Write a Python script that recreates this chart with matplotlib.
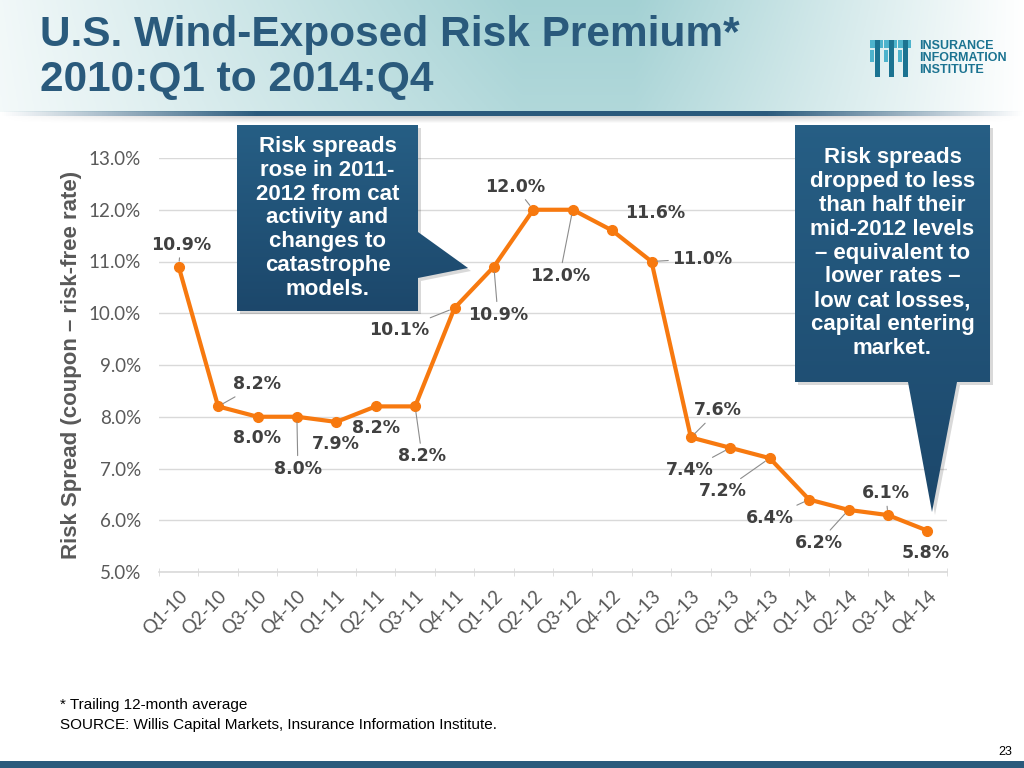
import numpy as np
import matplotlib
matplotlib.use("Agg")
import matplotlib.pyplot as plt
from matplotlib.patches import Polygon, Rectangle
from matplotlib import font_manager

# data
quarters = ["Q1-10", "Q2-10", "Q3-10", "Q4-10", "Q1-11", "Q2-11", "Q3-11", "Q4-11",
            "Q1-12", "Q2-12", "Q3-12", "Q4-12", "Q1-13", "Q2-13", "Q3-13", "Q4-13",
            "Q1-14", "Q2-14", "Q3-14", "Q4-14"]
spread = [10.9, 8.2, 8.0, 8.0, 7.9, 8.2, 8.2, 10.1, 10.9, 12.0,
          12.0, 11.6, 11.0, 7.6, 7.4, 7.2, 6.4, 6.2, 6.1, 5.8]

# label placement (pixel offsets from each point) and whether a leader line is drawn
label_offsets = [(2, 22), (39, 22), (0, -21), (1, -52), (0, -22), (0, -22), (7, -50),
                 (-55, -22), (4, -48), (-18, 23), (-13, -66), (43, 17), (51, 3),
                 (27, 27), (-41, -22), (-47, -33), (-39, -18), (-30, -33), (-2, 22),
                 (-2, -22)]
leaders = [1, 1, 0, 1, 0, 0, 1, 1, 1, 1, 1, 0, 1, 1, 1, 1, 1, 1, 1, 0]

installed = {f.name for f in font_manager.fontManager.ttflist}
NARROW = "Liberation Sans Narrow" if "Liberation Sans Narrow" in installed else "Liberation Sans"
TICKF = "Lato" if "Lato" in installed else "DejaVu Sans"

BLUE = "#2a5a7c"
ORANGE = "#f7790f"
GREY = "#595959"

fig = plt.figure(figsize=(10.24, 7.68), dpi=100)
fig.patch.set_facecolor("white")

# main chart
ax = fig.add_axes([159 / 1024, 1 - 572 / 768, (947 - 159) / 1024, (572 - 158) / 768])
x = np.arange(len(quarters))
ax.plot(x, spread, color=ORANGE, lw=3, marker="o", ms=7, zorder=3)
ax.set_xlim(-0.5, len(quarters) - 0.5)
ax.set_ylim(5, 13)
ax.set_yticks(np.arange(5, 13.01, 1))
ax.set_yticklabels([f"{v:.1f}%" for v in np.arange(5, 13.01, 1)],
                   fontsize=13.5, color=GREY, family=TICKF)
ax.yaxis.grid(True, color="#d9d9d9", lw=1)
ax.set_axisbelow(True)
ax.set_xticks(x)
ax.set_xticklabels(quarters, rotation=45, ha="right", rotation_mode="anchor",
                   fontsize=13.5, color=GREY, family=TICKF)
ax.set_xticks(np.arange(-0.5, len(quarters)), minor=True)
ax.tick_params(axis="x", which="major", length=0, pad=11)
ax.tick_params(axis="x", which="minor", length=6, color="#d9d9d9", direction="inout")
ax.tick_params(axis="y", length=0, pad=13)
for s in ["top", "right", "left"]:
    ax.spines[s].set_visible(False)
ax.spines["bottom"].set_color("#d9d9d9")
ax.spines["bottom"].set_linewidth(1.2)
ax.set_ylabel("Risk Spread (coupon \u2013 risk-free rate)", fontsize=16,
              fontweight="bold", color=GREY, family="Liberation Sans", labelpad=5)
ax.patch.set_alpha(0)

for i, v in enumerate(spread):
    dx, dy = label_offsets[i]
    arrow = dict(arrowstyle="-", color="#8c8c8c", lw=0.8, shrinkA=1, shrinkB=4) if leaders[i] else None
    ax.annotate(f"{v:.1f}%", (i, v), xytext=(dx, dy), textcoords="offset pixels",
                ha="center", va="center", fontsize=12.5, fontweight="bold",
                color="#404040", family="DejaVu Sans", arrowprops=arrow, zorder=4)

# overlay in pixel coordinates for the slide decoration
ov = fig.add_axes([0, 0, 1, 1], zorder=5)
ov.set_xlim(0, 1024)
ov.set_ylim(768, 0)
ov.axis("off")
ov.patch.set_alpha(0)

# header gradient
gx = np.linspace(0, 1, 512)
hg = np.clip(np.minimum(0.15 + gx / 0.6, (1 - gx) / 0.38), 0, 1)
hg = np.tile(hg, (60, 1))
vfade = np.linspace(1, 0.85, 60)[:, None]
teal = np.array([0.64, 0.82, 0.83])
img = 1 - (1 - teal) * (hg * vfade)[..., None]
ov.imshow(img, extent=(0, 1024, 112, 0), aspect="auto", zorder=0)
# line under header, fading at ends
line_a = np.clip(np.minimum(gx / 0.25, (1 - gx) / 0.25), 0, 1)
lrgba = np.zeros((1, 512, 4))
lrgba[..., :3] = np.array([42, 90, 124]) / 255
lrgba[..., 3] = line_a
ov.imshow(lrgba, extent=(0, 1024, 116, 111), aspect="auto", zorder=1)
srgba = np.zeros((6, 512, 4))
srgba[..., 3] = line_a[None, :] * np.linspace(0.18, 0.02, 6)[:, None]
ov.imshow(srgba, extent=(0, 1024, 123, 116), aspect="auto", zorder=1)

ov.text(40, 35, "U.S. Wind-Exposed Risk Premium*", fontsize=30.5, fontweight="bold",
        color=BLUE, family="Liberation Sans", va="center", ha="left")
ov.text(40, 80, "2010:Q1 to 2014:Q4", fontsize=30.5, fontweight="bold",
        color=BLUE, family="Liberation Sans", va="center", ha="left")

# logo
for k, cx in enumerate([870, 884, 898]):
    ov.add_patch(Rectangle((cx, 40), 13, 8, color="#4db3cc", lw=0, zorder=2))
    ov.add_patch(Rectangle((cx + 5, 40), 4.5, 37, color="#1b7391", lw=0, zorder=2))
    ov.add_patch(Rectangle((cx, 50), 4, 12, color="#4db3cc", lw=0, zorder=2))
ov.text(919, 58, "INSURANCE\nINFORMATION\nINSTITUTE", fontsize=9, fontweight="bold",
        color="#1b7391", family="Liberation Sans", va="center", ha="left", linespacing=1.0)


def callout(points, box, text, fs, cy):
    poly = Polygon(points, closed=True, facecolor="none", edgecolor="none")
    shadow = Polygon([(px + 3, py + 3) for px, py in points], closed=True,
                     facecolor="black", alpha=0.15, lw=0, zorder=2)
    ov.add_patch(shadow)
    ov.add_patch(poly)
    x0, y0, x1, y1 = box
    ys = min(p[1] for p in points)
    ye = max(p[1] for p in points)
    xs = min(p[0] for p in points)
    xe = max(p[0] for p in points)
    grad = np.linspace(0, 1, 100)[:, None]
    c0 = np.array([0.15, 0.37, 0.52])
    c1 = np.array([0.11, 0.28, 0.42])
    g = c0 + (c1 - c0) * grad[..., None]
    g = np.repeat(g, 2, axis=1)
    im = ov.imshow(g, extent=(xs, xe, ye, ys), aspect="auto", zorder=3)
    im.set_clip_path(poly)
    ov.text((x0 + x1) / 2, cy, text, color="white", fontsize=fs, fontweight="bold",
            family="Liberation Sans", ha="center", va="center", linespacing=1.18, zorder=4)


callout([(237, 125), (418, 125), (418, 232), (468, 268), (418, 278), (418, 311), (237, 311)],
        (237, 125, 418, 311),
        "Risk spreads\nrose in 2011-\n2012 from cat\nactivity and\nchanges to\ncatastrophe\nmodels.",
        16, 218)
callout([(795, 125), (990, 125), (990, 382), (957, 382), (932, 512), (908, 382), (795, 382)],
        (795, 125, 990, 382),
        "Risk spreads\ndropped to less\nthan half their\nmid-2012 levels\n\u2013 equivalent to\n"
        "lower rates \u2013\nlow cat losses,\ncapital entering\nmarket.",
        16, 253)

# footnote and page
ov.text(60, 705, "* Trailing 12-month average", fontsize=11, color="black",
        family=NARROW, va="center")
ov.text(60, 725, "SOURCE: Willis Capital Markets, Insurance Information Institute.",
        fontsize=11, color="black", family=NARROW, va="center")
ov.text(1012, 752, "23", fontsize=9, color="black", family=NARROW, va="center", ha="right")
ov.add_patch(Rectangle((0, 761), 1024, 7, color=BLUE, lw=0))

fig.savefig("out.png", dpi=100)
